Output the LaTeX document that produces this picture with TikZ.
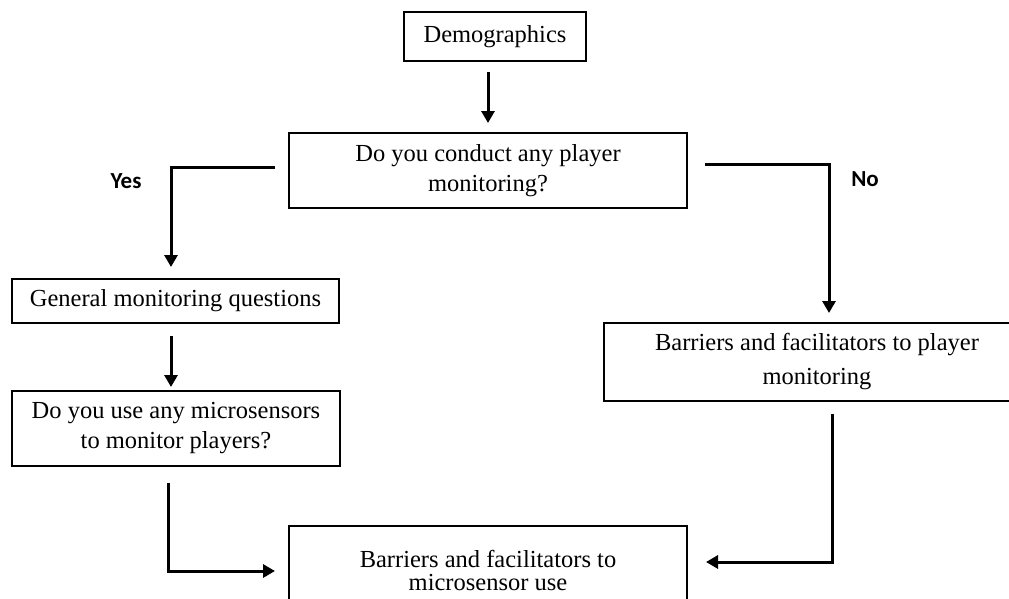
\documentclass[tikz,border=0pt]{standalone}
\usepackage{fontspec}
\setmainfont{Liberation Serif}
\newfontfamily\labfont{Carlito}
\usetikzlibrary{arrows.meta}
\tikzset{
  box/.style={draw, line width=1.4pt, inner sep=0pt, outer sep=0pt, align=center,
    font=\fontsize{24.5}{30}\selectfont},
  arr/.style={line width=3pt, -{Triangle[length=12pt,width=13pt]}},
  lab/.style={font=\labfont\bfseries\fontsize{23}{27}\selectfont, inner sep=0pt}
}
\begin{document}
\begin{tikzpicture}[x=1pt,y=-1pt]
\useasboundingbox (0,0) rectangle (1009,598);
\clip (0,0) rectangle (1009,598);
\node[box, minimum width=182pt, minimum height=49pt] (demo) at (495,36.5) {Demographics};
\node[box, minimum width=398pt, minimum height=75pt] (q) at (488,170.5) {Do you conduct any player\\monitoring?};
\node[box, minimum width=327pt, minimum height=44pt] (gen) at (175.5,301) {General monitoring questions};
\node[box, minimum width=328pt, minimum height=75pt] (micro) at (176,428.5) {Do you use any microsensors\\to monitor players?};
\node[box, minimum width=426pt, minimum height=78pt, font=\fontsize{24.5}{34}\selectfont] (nob) at (817,362) {Barriers and facilitators to player\\monitoring};
\node[box, minimum width=398pt, minimum height=89pt, font=\fontsize{24.5}{23}\selectfont] (bot) at (488,570.5) {Barriers and facilitators to\\microsensor use};
\node[lab] (yes) at (126,181) {Yes};
\node[lab] (no) at (865,179) {No};
\draw[arr, shorten <=11pt, shorten >=10pt] (demo.south -| q.north) -- (q.north);
\draw[arr, shorten <=14pt, shorten >=12pt] ([yshift=3.5pt]q.west) -| ([xshift=-4.5pt]gen.north);
\draw[arr, shorten <=18pt, shorten >=10pt] ([yshift=6.5pt]q.east) -| ([xshift=12pt]nob.north);
\draw[arr, shorten <=13pt, shorten >=4pt] ([xshift=-4.5pt]gen.south) -- ([xshift=-5pt]micro.north);
\draw[arr, shorten <=17pt, shorten >=14pt] ([xshift=-8pt]micro.south) |- ([yshift=-0.5pt]bot.west);
\draw[arr, shorten <=13pt, shorten >=19pt] ([xshift=15pt]nob.south) |- ([yshift=8.5pt]bot.east);
\end{tikzpicture}
\end{document}
